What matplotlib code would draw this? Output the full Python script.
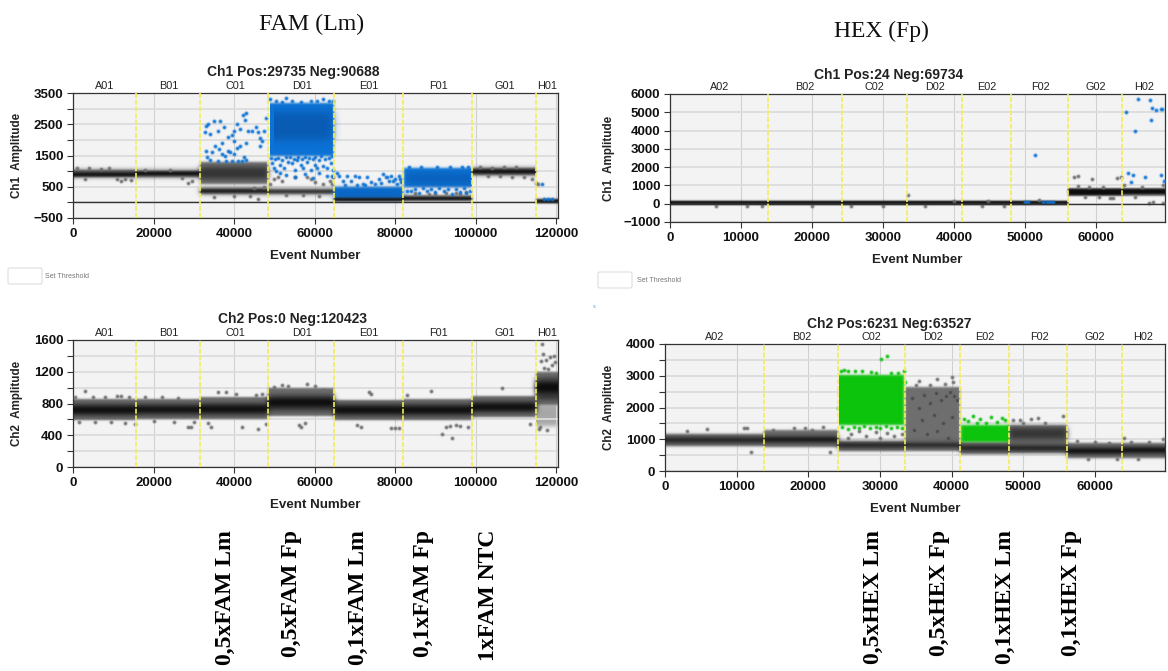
import matplotlib
matplotlib.use("Agg")
import matplotlib.pyplot as plt
import numpy as np
from matplotlib.collections import PolyCollection
from matplotlib.patches import FancyBboxPatch

W, H = 1168, 671

# ---------- shared well data ----------
WELLS_L = ["A01", "B01", "C01", "D01", "E01", "F01", "G01", "H01"]
WELL_POS_L = [7760, 23850, 40220, 56870, 73500, 90640, 107200, 117700]
BOUNDS_L = [15620, 31620, 48460, 64830, 82040, 99060, 115060]
WELLS_R = ["A02", "B02", "C02", "D02", "E02", "F02", "G02", "H02"]
WELL_POS_R = [6950, 19040, 28830, 37350, 44670, 52220, 59950, 66740]
BOUNDS_R = [13750, 24170, 33440, 41150, 48020, 56100, 63700]

# ---------- panel 1: Ch1 FAM (droplet clusters: x0, x1, low, high) ----------
P1_GREY = [(31620, 48460, 600, 1280), (31620, 48460, 270, 450), (48460, 64830, 270, 420),
           (0, 15620, 800, 1030), (15620, 31620, 820, 1020), (99060, 115060, 880, 1090),
           (64830, 82040, 30, 190), (82040, 99060, 40, 240)]
P1_DARK = [(31620, 48460, 760, 1130), (0, 15620, 840, 990), (15620, 31620, 850, 990),
           (99060, 115060, 910, 1060), (31620, 48460, 310, 420), (48460, 64830, 300, 400)]
P1_BLACK = [(0, 15620, 860, 950), (15620, 31620, 870, 960), (99060, 115060, 930, 1030),
            (31620, 48460, 330, 400), (48460, 64830, 320, 380), (64830, 82040, 50, 150),
            (82040, 99060, 70, 170), (115060, 120423, -30, 120)]
P1_BLUE = [(48900, 64800, 1500, 3190), (64830, 82040, 150, 500), (82300, 99000, 480, 1090)]
P1_DEEP = [(50000, 64300, 2000, 2880), (65000, 82000, 160, 360), (83000, 98500, 620, 920)]
P1_PTS_BLUE = [
    (33000, 2450), (32800, 2250), (33500, 2500), (34000, 2200), (35000, 2600), (36500, 2600), (37500, 2400),
    (36000, 2300), (38500, 2100), (39500, 2150), (40000, 2300), (40700, 2500), (41500, 2350), (42200, 2800),
    (43000, 2850), (42800, 2650), (43500, 2300), (44500, 2300), (45500, 2400), (46000, 2250), (46500, 2050),
    (47500, 2300), (48000, 2700), (47000, 1950), (46500, 1800), (33000, 1650), (33200, 1450), (34500, 1600),
    (35200, 1800), (36200, 1700), (37000, 1550), (37800, 1500), (38500, 1650), (39000, 1600), (40000, 1550),
    (40600, 1750), (41500, 1800), (42500, 1450), (43000, 1350), (36000, 1330), (34000, 1350), (38000, 1330),
    (39500, 1320), (41000, 1340), (42000, 1310), (37000, 1900), (40000, 1950), (43000, 1900),
    (49500, 1250), (50000, 1100), (50500, 1000), (51500, 1200), (52500, 1100), (53500, 1300), (54500, 1250),
    (55000, 1050), (55500, 1350), (56500, 1200), (57000, 1100), (58000, 1300), (59000, 1050), (60000, 1200),
    (60500, 1100), (61000, 1350), (62000, 1150), (63000, 1100), (64000, 1250), (64500, 1050), (49200, 1420),
    (50200, 1380), (51000, 1430), (52000, 1350), (52800, 1440), (53800, 1450), (54800, 1400), (55800, 1460),
    (56800, 1400), (57500, 1450), (58500, 1420), (59500, 1380), (60200, 1440), (61500, 1470), (62500, 1400),
    (63500, 1430), (64300, 1470), (51500, 950), (53000, 880), (55000, 820), (57500, 900), (59500, 780),
    (61000, 930), (63000, 860), (64200, 830),
    (49000, 3300), (53000, 3350), (50500, 3230), (54500, 3240), (56500, 3220), (59000, 3250), (60500, 3260),
    (62000, 3300), (63500, 3250), (64500, 3230), (52000, 3220),
    (65500, 950), (66000, 850), (67000, 700), (68000, 850), (69000, 700), (70000, 850), (71000, 800), (72000, 600),
    (73000, 800), (74000, 650), (75000, 600), (76000, 750), (77000, 900), (78000, 800), (79000, 850), (80000, 750),
    (81000, 850), (81500, 650), (67500, 550), (70500, 550), (72500, 550), (76500, 620), (78500, 700), (80500, 600),
    (77700, 820), (79500, 680), (81200, 760),
    (84000, 350), (86000, 300), (88000, 380), (90000, 320), (92000, 350), (94000, 280), (96000, 340), (97500, 300),
    (83000, 380), (85000, 420), (87000, 450), (89000, 430), (91000, 460), (93000, 420), (95000, 440), (97000, 450),
    (98500, 380), (83500, 1120), (86500, 1130), (90500, 1140), (93500, 1130), (96500, 1120), (98200, 1140),
    (116500, 600), (117000, 100), (118000, 100), (119000, 100)]
P1_PTS_GREY = [
    (49000, 600), (50000, 750), (51000, 800), (52000, 700), (58000, 800), (59000, 750), (60000, 650), (62000, 600),
    (46000, 100), (28500, 620), (12000, 680), (4000, 1100), (64500, 800), (115000, 620), (115500, 580), (95000, 290),
    (90000, 280), (85000, 280), (55000, 820), (63800, 700), (64200, 600), (53000, 240), (57000, 230), (61000, 220),
    (1000, 1090), (3000, 760), (7000, 1060), (9000, 1100), (11000, 760), (13000, 750), (14500, 720), (18000, 1040),
    (24000, 1050), (27000, 770), (29500, 700), (101000, 1120), (104000, 1110), (107000, 1140), (110000, 1120),
    (103000, 830), (106000, 840), (109000, 820), (112000, 800), (114000, 760), (85000, 310), (88500, 260), (92500, 300),
    (96000, 270), (97500, 340), (35000, 180), (40000, 200), (44000, 220), (45000, 470), (47500, 500)]

# ---------- panel 2: Ch2 FAM ----------
P2_GREY = [(0, 15620, 590, 860), (15620, 31620, 600, 860), (31620, 48460, 600, 880), (48460, 64830, 640, 990),
           (64830, 82040, 590, 850), (82040, 99060, 590, 860), (99060, 115060, 630, 900), (115060, 120423, 780, 1200)]
P2_LIGHT = [(115060, 120423, 520, 800)]
P2_DARK = [(0, 15620, 640, 790), (15620, 31620, 650, 790), (31620, 48460, 650, 810), (48460, 64830, 700, 910),
           (64830, 82040, 640, 790), (82040, 99060, 640, 800), (99060, 115060, 680, 830), (115060, 120423, 850, 1120)]
P2_BLACK = [(0, 15620, 680, 750), (15620, 31620, 690, 750), (31620, 48460, 690, 770), (48460, 64830, 770, 860),
            (64830, 82040, 680, 750), (82040, 99060, 680, 760), (99060, 115060, 720, 790), (115060, 120423, 950, 1060)]
P2_PTS = [
    (3000, 960), (500, 880), (12000, 900), (28500, 500), (29200, 510), (33500, 560), (34200, 500), (36000, 950),
    (38000, 940), (40500, 920), (42000, 510), (46000, 480), (47000, 920), (45500, 910), (50000, 1010), (52000, 1030),
    (53500, 1020), (56500, 510), (58000, 1040), (60000, 1020), (56000, 530), (57500, 560), (62000, 970), (70500, 530),
    (73500, 950), (74000, 920), (71500, 510), (79000, 490), (80000, 490), (81000, 490), (83000, 910), (89000, 960),
    (91500, 410), (94000, 370), (92500, 500), (93500, 520), (95000, 530), (96000, 520), (98000, 500), (106500, 990),
    (113500, 540), (116500, 1550), (116800, 1420), (116200, 1330), (117500, 1350), (118500, 1380), (119500, 1400),
    (119800, 1320), (117000, 1250), (118000, 1230), (119000, 1280), (116000, 500), (115800, 480), (117800, 470),
    (5000, 880), (8000, 880), (11000, 890), (14000, 880), (18000, 880), (22000, 880), (26000, 870), (15500, 540),
    (1500, 570), (5500, 570), (9500, 565), (13000, 560), (20000, 575), (25000, 570), (30000, 570), (47800, 540)]

# ---------- panel 3: Ch1 HEX ----------
P3_BLACK = [(0, 56100, -40, 130), (56100, 63700, 500, 780), (63700, 69760, 520, 780)]
P3_GREY = [(0, 56100, -60, 150), (56100, 63700, 420, 860), (63700, 69760, 440, 860)]
P3_PTS_BLUE = [(51500, 2650), (64300, 5000), (66000, 5700), (67600, 5650), (67900, 5250), (67800, 4600), (68500, 5100),
               (69200, 5200), (69300, 5180), (65500, 3950), (64500, 1700), (65000, 1200), (65200, 1550), (67000, 1450),
               (69200, 1550), (69600, 1250), (50000, 100), (50500, 100), (52500, 100), (53200, 100), (53500, 100),
               (54000, 100)]
P3_PTS_GREY = [(57000, 1450), (57500, 1500), (59500, 1350), (63000, 1400), (63500, 1450), (33500, 450), (64000, 1000),
               (69500, 1000), (67500, 50), (68000, 80), (69500, 50), (44800, 170), (62000, 300), (62500, 320),
               (57500, 950), (59000, 930), (61000, 920), (66500, 930), (58500, 350), (60500, 380), (65500, 350),
               (6500, -130), (10800, -120), (13000, -120), (20000, -120), (25500, -130), (30000, -130), (36000, -120),
               (44000, -130), (47000, -120), (52000, 180), (40000, 170)]

# ---------- panel 4: Ch2 HEX ----------
P4_GREY = [(0, 13750, 790, 1150), (13750, 24170, 770, 1280), (24170, 33440, 640, 950), (33440, 41150, 880, 2650),
           (33440, 41150, 640, 880), (41150, 48020, 540, 900), (48020, 56100, 900, 1440), (48020, 56100, 560, 900),
           (56100, 63700, 420, 870), (63700, 69760, 400, 880)]
P4_DARK = [(0, 13750, 880, 1060), (13750, 24170, 890, 1090), (24170, 33440, 730, 880), (33440, 41150, 750, 880),
           (41150, 48020, 620, 830), (48020, 56100, 1020, 1350), (48020, 56100, 620, 820),
           (56100, 63700, 530, 760), (63700, 69760, 530, 770)]
P4_BLACK = [(0, 13750, 930, 1020), (13750, 24170, 930, 1040), (24170, 33440, 780, 850), (33440, 41150, 790, 850),
            (41150, 48020, 680, 770), (48020, 56100, 680, 770), (56100, 63700, 580, 700), (63700, 69760, 590, 710)]
P4_GREEN = [(24300, 33400, 1450, 3020), (41250, 48000, 910, 1450)]
P4_PTS_GREEN = [
    (24500, 3150), (25000, 3170), (25500, 3160), (26500, 3150), (27500, 3150), (28800, 3120), (30200, 3530),
    (31000, 3620), (32500, 3100), (33300, 3150), (43000, 1730), (44000, 1650), (45500, 1700), (47000, 1670),
    (47500, 1620), (41700, 1650), (42300, 1560), (43500, 1520), (44800, 1510), (46300, 1530), (24700, 1400),
    (25500, 1330), (26300, 1380), (27000, 1340), (27800, 1420), (28600, 1360), (29400, 1400), (30000, 1340),
    (30800, 1420), (31500, 1350), (32300, 1390), (33000, 1340), (29500, 3080), (31500, 3090), (24200, 2000), (33500, 2800)]
P4_PTS_GREY = [(3000, 1250), (5900, 1320), (11000, 1350), (11500, 1350), (18000, 1350), (19500, 1350), (22000, 1400),
               (35500, 2850), (38000, 2900), (40000, 2950), (40200, 2800), (49500, 1600), (51000, 1650), (52000, 1680),
               (55500, 1720), (64000, 1050), (69500, 1000), (26000, 1150), (28000, 1100), (31000, 1200), (32000, 1100),
               (27000, 1250), (12000, 600), (23000, 600), (25500, 1050), (29500, 1230), (33000, 1180), (30000, 1050),
               (50000, 1520), (53000, 1520), (48500, 1600), (15000, 1300), (20500, 1300), (35000, 2720), (37000, 2720),
               (39000, 2730), (57500, 930), (60000, 900), (62000, 880), (65000, 900), (67500, 920), (59000, 390),
               (63000, 370), (66000, 380)]
P4_PTS_DARK = [(34500, 2300), (35500, 2000), (36200, 2400), (37000, 2150), (37800, 2450), (38500, 2250), (39200, 2350),
               (39800, 2500), (40300, 2350), (40700, 2250), (35800, 1600), (37500, 1750), (38800, 1500), (36500, 1150),
               (38000, 1250), (39500, 1050), (34800, 1300), (40000, 1700)]

# ---------- layout ----------
PANELS = [
    dict(box=(73, 93, 558, 218), xlim=(0, 120423), ylim=(-500, 3500), yt=[-500, 500, 1500, 2500, 3500],
         ym=[0, 1000, 2000, 3000], xt=range(0, 120001, 20000), title="Ch1 Pos:29735 Neg:90688", ylabel="Ch1  Amplitude",
         wells=WELLS_L, wpos=WELL_POS_L, bounds=BOUNDS_L, thr=True, tpos=(293, 72), ylx=23),
    dict(box=(73, 340, 558, 467), xlim=(0, 120423), ylim=(0, 1600), yt=[0, 400, 800, 1200, 1600],
         ym=[200, 600, 1000, 1400], xt=range(0, 120001, 20000), title="Ch2 Pos:0 Neg:120423", ylabel="Ch2  Amplitude",
         wells=WELLS_L, wpos=WELL_POS_L, bounds=BOUNDS_L, thr=False, tpos=(293, 319), ylx=23),
    dict(box=(670, 94, 1165, 222), xlim=(0, 69760), ylim=(-1000, 6000), yt=list(range(-1000, 6001, 1000)),
         ym=[], xt=range(0, 60001, 10000), title="Ch1 Pos:24 Neg:69734", ylabel="Ch1  Amplitude",
         wells=WELLS_R, wpos=WELL_POS_R, bounds=BOUNDS_R, thr=True, tpos=(889, 75), ylx=615),
    dict(box=(665, 344, 1165, 471), xlim=(0, 69760), ylim=(0, 4000), yt=[0, 1000, 2000, 3000, 4000],
         ym=[500, 1500, 2500, 3500], xt=range(0, 60001, 10000), title="Ch2 Pos:6231 Neg:63527", ylabel="Ch2  Amplitude",
         wells=WELLS_R, wpos=WELL_POS_R, bounds=BOUNDS_R, thr=False, tpos=(889, 324), ylx=615),
]

GREY, DARK, BLACK = "#6e6e6e", "#343434", "#0c0c0c"
BLUE, DEEP, GREEN = "#0b72d6", "#0a5cb4", "#0cc40c"
LIGHT = "#a8a8a8"

plt.rcParams["font.family"] = ["Liberation Sans", "DejaVu Sans"]
fig = plt.figure(figsize=(W / 100, H / 100), dpi=100, facecolor="white")


def soften(sigma, spread_x=False):
    """Gaussian softening of a layer: the reference is a blurred screenshot.
    Layers that reach the axes edges stay inside them (spread_x=False)."""
    radius = int(3 * sigma) + 1
    kernel = np.exp(-0.5 * (np.arange(-radius, radius + 1) / sigma) ** 2)
    kernel /= kernel.sum()

    def run(img, dpi):
        pad = radius
        px = pad if spread_x else 0
        src = np.pad(img, [(pad, pad), (px, px), (0, 0)], "constant")
        alpha = src[..., 3:]
        work = np.concatenate([src[..., :3] * alpha, alpha], axis=2)
        work = np.apply_along_axis(lambda v: np.convolve(v, kernel, mode="same"), 0, work)
        wide = np.pad(work, [(0, 0), (radius, radius), (0, 0)], "edge")
        wide = np.apply_along_axis(lambda v: np.convolve(v, kernel, mode="same"), 1, wide)
        work = wide[:, radius:-radius, :]
        out_alpha = np.clip(work[..., 3:], 1e-4, 1)
        out = np.concatenate([np.clip(work[..., :3] / out_alpha, 0, 1), work[..., 3:]], axis=2)
        return out, -px, -pad

    return run


def bands(ax, rows, color, z, sigma):
    verts = [[(x0, lo), (x1, lo), (x1, hi), (x0, hi)] for x0, x1, lo, hi in rows]
    coll = PolyCollection(verts, facecolors=color, edgecolors="none", zorder=z)
    coll.set_agg_filter(soften(sigma))
    ax.add_collection(coll)


def pts(ax, rows, color, z=5, s=7):
    xs, ys = zip(*rows)
    coll = ax.scatter(xs, ys, s=s, c=color, marker="o", lw=0, zorder=z)
    coll.set_agg_filter(soften(0.5))


axes = []
for p in PANELS:
    x0, y0, x1, y1 = p["box"]
    ax = fig.add_axes([x0 / W, 1 - y1 / H, (x1 - x0) / W, (y1 - y0) / H], facecolor="#f3f3f3")
    ax.set_xlim(*p["xlim"])
    ax.set_ylim(*p["ylim"])
    ax.set_xticks(list(p["xt"]))
    ax.set_yticks(p["yt"])
    ax.set_yticks(p["ym"], minor=True)
    ax.grid(True, which="both", axis="y", color="#dcdcdc", lw=1.3, zorder=0)
    ax.grid(True, which="major", axis="x", color="#d0d0d0", lw=0.8, zorder=0)
    ax.tick_params(axis="both", which="both", length=4, width=0.8, labelsize=9.5, pad=3, color="#333333")
    for lab in ax.get_xticklabels() + ax.get_yticklabels():
        lab.set_fontweight("bold")
        lab.set_color("#111111")
    for side in ax.spines.values():
        side.set_color("#333333")
        side.set_linewidth(0.9)
    ax.set_xlabel("Event Number", fontsize=9.6, fontweight="bold", labelpad=7.5, color="#222222")
    ax.set_ylabel(p["ylabel"], fontsize=8.4, fontweight="bold", color="#222222")
    ax.yaxis.set_label_coords((p["ylx"] - x0) / (x1 - x0), 0.5)
    fig.text(p["tpos"][0] / W, 1 - p["tpos"][1] / H, p["title"], fontsize=10, fontweight="bold",
             ha="center", va="center", color="#222222")
    for name, xp in zip(p["wells"], p["wpos"]):
        ax.annotate(name, (xp, 1), xycoords=("data", "axes fraction"), xytext=(0, 1.5), textcoords="offset points",
                    ha="center", va="bottom", fontsize=7.8, color="#222222")
    for b in p["bounds"]:
        ax.axvline(b, color="#f4ee55", lw=1.2, ls=(0, (3, 1)), zorder=8)
    if p["thr"]:
        ax.axhline(0, color="#333333", lw=1.0, zorder=7)
    axes.append(ax)

a1, a2, a3, a4 = axes
bands(a1, P1_GREY, GREY, 2, 0.8)
bands(a1, P1_DARK, DARK, 3, 2.0)
bands(a1, P1_BLACK, BLACK, 4, 0.8)
bands(a1, P1_BLUE, BLUE, 3.2, 0.8)
bands(a1, P1_DEEP, DEEP, 3.5, 3.0)
pts(a1, P1_PTS_GREY, GREY)
pts(a1, P1_PTS_BLUE, BLUE, z=6)

bands(a2, P2_LIGHT, LIGHT, 1.5, 1.5)
bands(a2, P2_GREY, GREY, 2, 0.7)
bands(a2, P2_DARK, DARK, 3, 2.0)
bands(a2, P2_BLACK, BLACK, 4, 1.5)
pts(a2, P2_PTS, GREY)

bands(a3, P3_GREY, GREY, 2, 0.6)
bands(a3, P3_BLACK, BLACK, 3, 0.7)
pts(a3, P3_PTS_GREY, GREY)
pts(a3, P3_PTS_BLUE, BLUE, z=6)

bands(a4, P4_GREY, GREY, 2, 0.8)
bands(a4, P4_DARK, DARK, 3, 2.0)
bands(a4, P4_BLACK, BLACK, 4, 1.2)
bands(a4, P4_GREEN, GREEN, 5, 0.8)
pts(a4, P4_PTS_GREY, GREY)
pts(a4, P4_PTS_DARK, "#454545", s=5)
pts(a4, P4_PTS_GREEN, GREEN, z=6)


# ---------- annotations in figure pixels ----------
def ftext(px, py, s, **kw):
    fig.text(px / W, 1 - py / H, s, **kw)


SERIF = ["Liberation Serif", "DejaVu Serif"]
ftext(312, 24, "FAM (Lm)", family=SERIF, fontsize=17.2, ha="center", va="center", color="#111111")
ftext(881, 31, "HEX (Fp)", family=SERIF, fontsize=17, ha="center", va="center", color="#111111")

ROT_LABELS = ["0,5xFAM Lm", "0,5xFAM Fp", "0,1xFAM Lm", "0,1xFAM Fp", "1xFAM NTC",
              "0,5xHEX Lm", "0,5xHEX Fp", "0,1xHEX Lm", "0,1xHEX Fp"]
ROT_X = [225, 292, 358, 424, 489, 873, 939, 1005, 1071]
for xp, s in zip(ROT_X, ROT_LABELS):
    ftext(xp, 530, s, family=SERIF, fontsize=17, fontweight="bold", rotation=90, ha="center", va="top", color="black")

for bx, by, tx, ty in [(8, 268, 45, 276), (598, 272, 637, 280)]:
    fig.add_artist(FancyBboxPatch((bx / W, 1 - (by + 16) / H), 34 / W, 16 / H, boxstyle="round,pad=0,rounding_size=0.002",
                                  transform=fig.transFigure, fc="white", ec="#dddddd", lw=0.8))
    ftext(tx, ty, "Set Threshold", fontsize=5, color="#777777", va="center", ha="left")
ftext(594, 307, "s", fontsize=4, color="#5599dd", ha="center", va="center")

fig.savefig("out.png", dpi=100)
